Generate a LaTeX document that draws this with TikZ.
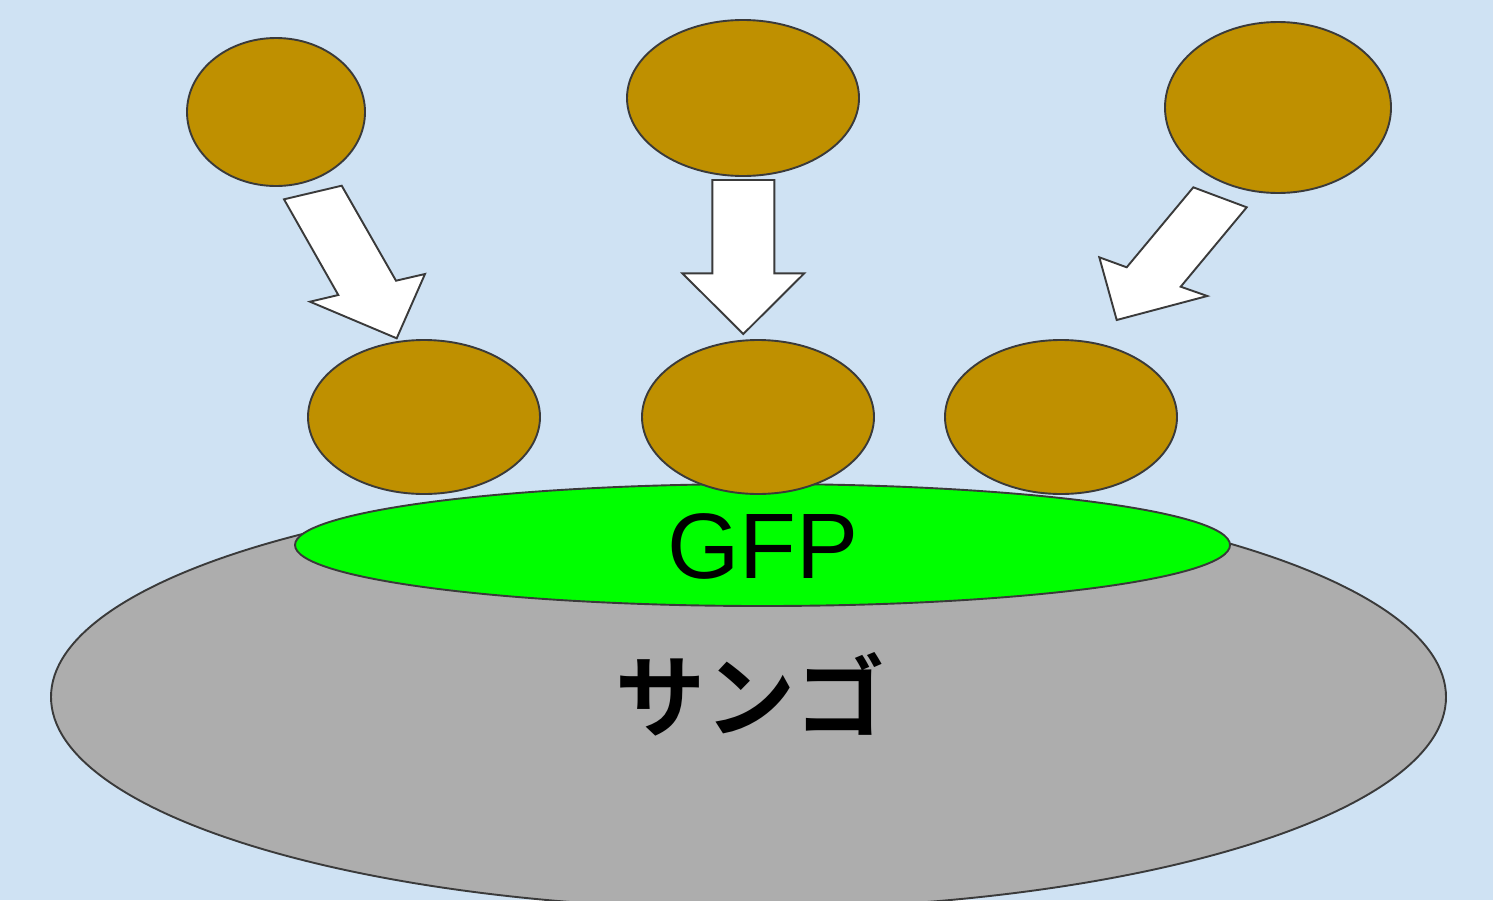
\documentclass[tikz,border=0pt]{standalone}
\usepackage{fontspec}
\setmainfont{Liberation Sans}
\newfontfamily\jpfont{Noto Sans CJK JP Bold}
\usetikzlibrary{shapes.geometric}
\definecolor{bgblue}{HTML}{CFE2F3}
\definecolor{cellbrown}{HTML}{BF9000}
\definecolor{gfpgreen}{HTML}{00FF00}
\definecolor{coralgray}{HTML}{ADADAD}
\definecolor{outline}{HTML}{3A3A3A}
\tikzset{
  blob/.style={ellipse, draw=outline, line width=1.9pt, inner sep=0pt, outer sep=0pt},
  cell/.style={blob, fill=cellbrown},
  blockarrow/.style={draw=outline, fill=white, line width=1.9pt, line join=miter},
}
\begin{document}
\begin{tikzpicture}[x=1pt, y=-1pt]
\useasboundingbox (0,0) rectangle (1493,900);
\fill[bgblue] (0,0) rectangle (1493,900);
\clip (0,0) rectangle (1493,900);
% coral and GFP
\node[blob, fill=coralgray, minimum width=1395pt, minimum height=424pt] (coral) at (748.5,697) {};
\node[blob, fill=gfpgreen, minimum width=935pt, minimum height=122pt] (gfp) at (762.5,545) {};
% bottom cells
\node[cell, minimum width=232pt, minimum height=154pt] (b1) at (424,417) {};
\node[cell, minimum width=232pt, minimum height=154pt] (b2) at (758,417) {};
\node[cell, minimum width=232pt, minimum height=154pt] (b3) at (1061,417) {};
% labels
\node[inner sep=0pt, font=\fontsize{93}{93}\selectfont] (gfplabel) at (763,546) {GFP};
\node[inner sep=0pt, font=\jpfont\fontsize{90}{90}\selectfont] (corallabel) at (750,694) {サンゴ};
% top cells
\node[cell, minimum width=178pt, minimum height=148pt] (t1) at (276,112) {};
\node[cell, minimum width=232pt, minimum height=156pt] (t2) at (743,98) {};
\node[cell, minimum width=226pt, minimum height=171pt] (t3) at (1278,107.5) {};
% block arrows
\draw[blockarrow] (284,199.3) -- (341.7,185.7) -- (396,280.7) -- (425,274) -- (396.7,338.3) -- (310,301.7) -- (338.3,295) -- cycle;
\draw[blockarrow] (712.3,180) -- (774.3,180) -- (774.3,273.3) -- (804.3,273.3) -- (743.3,334) -- (682.3,273.3) -- (712.3,273.3) -- cycle;
\draw[blockarrow] (1193.3,187.3) -- (1246.7,207.3) -- (1180.7,286.7) -- (1207.3,296) -- (1116.7,320) -- (1099.3,257.3) -- (1126.7,267.3) -- cycle;
\end{tikzpicture}
\end{document}
